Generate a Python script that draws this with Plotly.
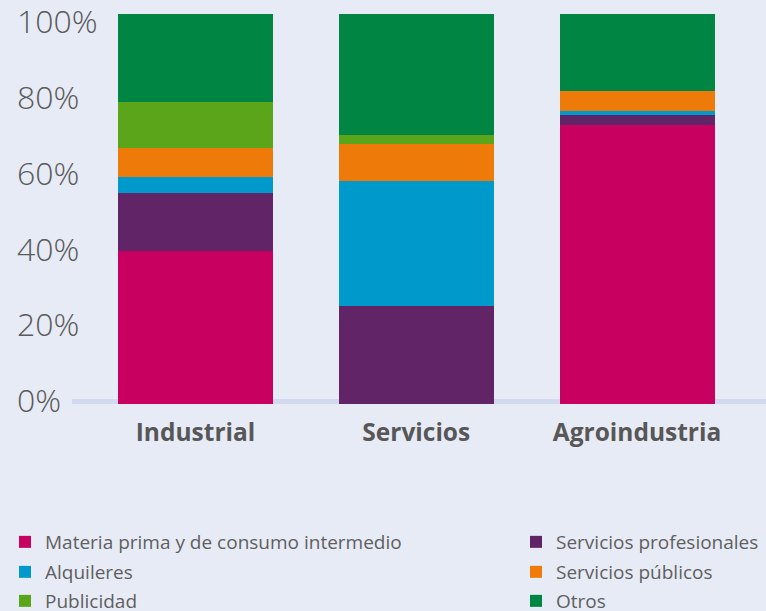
import plotly.graph_objects as go

categories = ["Industrial", "Servicios", "Agroindustria"]
series_names = [
    "Materia prima y de consumo intermedio",
    "Servicios profesionales",
    "Alquileres",
    "Servicios públicos",
    "Publicidad",
    "Otros",
]
materia_prima = [39.2, 0.0, 71.5]
servicios_profesionales = [14.9, 25.1, 2.6]
alquileres = [4.1, 32.1, 1.1]
servicios_publicos = [7.5, 9.5, 5.1]
publicidad = [11.7, 2.2, 0.0]
otros = [22.6, 31.1, 19.7]
series_values = [materia_prima, servicios_profesionales, alquileres,
                 servicios_publicos, publicidad, otros]
colors = ["#c8005f", "#612466", "#0099cc", "#ee7b09", "#5aa519", "#008542"]
tick_values = [0, 20, 40, 60, 80, 100]
tick_labels = ["0%", "20%", "40%", "60%", "80%", "100%"]

W, H = 766, 611
ml, mr, mt, mb = 14, 0, 14, 207
plot_w = W - ml - mr
plot_h = H - mt - mb          # 390 px: value 0 at row 404, value 100 at row 14
bottom_px = H - mb

# tick-label axis (labels sit on a slightly different spacing in the reference)
lab0_px, lab100_px = 401, 22
k2 = (lab0_px - lab100_px) / 100.0
y2_r0 = -(bottom_px - lab0_px) / k2
y2_range = [y2_r0, y2_r0 + plot_h / k2]

cat_step_px = 220.75
cat0_px = 195.5
x_r0 = -(cat0_px - ml) / cat_step_px
x_range = [x_r0, x_r0 + plot_w / cat_step_px]

# legend slots: (left px, centre y px) for each series, two columns x three rows
legend_left = [5, 516, 5, 516, 5, 516]
legend_cy = [542, 542, 572, 572, 601, 601]

bg = "#e7ebf6"
fig = go.Figure()
legends = {}
for i, (name, vals, col) in enumerate(zip(series_names, series_values, colors)):
    key = "legend" if i == 0 else f"legend{i + 1}"
    fig.add_trace(go.Bar(
        x=categories, y=vals, name=name,
        marker=dict(color=col, line=dict(width=0)),
        width=155 / cat_step_px, hoverinfo="skip", legend=key,
    ))
    legends[key] = dict(
        x=legend_left[i] / W, xref="container", xanchor="left",
        y=1 - legend_cy[i] / H, yref="container", yanchor="middle",
        font=dict(family="Open Sans", size=19, color="#5f5f5f"),
        bgcolor="rgba(0,0,0,0)", borderwidth=0,
    )

# empty trace so the label axis is drawn
fig.add_trace(go.Scatter(x=[], y=[], yaxis="y2", showlegend=False, hoverinfo="skip"))

# baseline band
fig.add_shape(type="line", xref="paper", yref="y",
              x0=(72 - ml) / plot_w, x1=1, y0=0, y1=0,
              line=dict(color="#d2d9ee", width=10), layer="below")

fig.update_layout(
    width=W, height=H,
    margin=dict(l=ml, r=mr, t=mt, b=mb, pad=0, autoexpand=False),
    paper_bgcolor=bg, plot_bgcolor=bg,
    barmode="stack", bargap=0,
    font=dict(family="Open Sans", color="#555555"),
    showlegend=True,
    xaxis=dict(
        type="category", range=x_range, anchor="y",
        showgrid=False, zeroline=False, showline=False,
        ticks="outside", ticklen=7, tickcolor="rgba(0,0,0,0)",
        tickfont=dict(family="Open Sans", size=24.5, color="#575757", weight=700),
    ),
    yaxis=dict(
        range=[0, 100], anchor="x",
        showgrid=False, zeroline=False, showline=False,
        showticklabels=False, ticks="",
    ),
    yaxis2=dict(
        overlaying="y", side="left", anchor="x",
        range=y2_range, showgrid=False, zeroline=False, showline=False,
        tickvals=tick_values, ticktext=tick_labels,
        ticklabelposition="inside", ticklabeloverflow="allow", ticks="",
        tickfont=dict(family="Open Sans", size=32, color="#5a5a5a", weight=300),
    ),
    **legends,
)

fig.write_html("out.html", config={"displayModeBar": False},
               post_script="document.body.style.margin='0';document.body.style.padding='0';")
